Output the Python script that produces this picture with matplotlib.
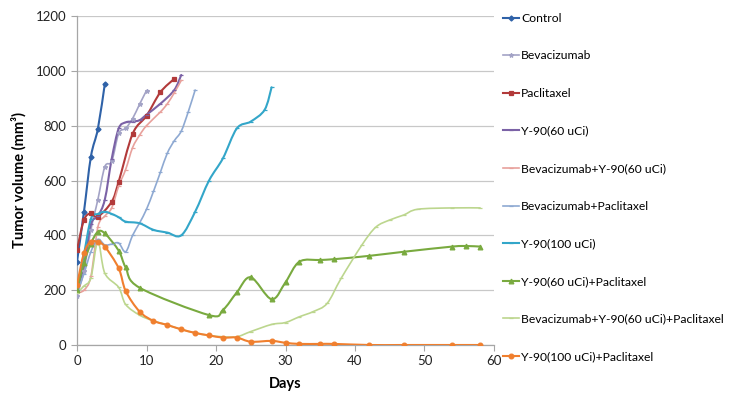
import matplotlib
matplotlib.use("Agg")
import matplotlib.pyplot as plt
from matplotlib.path import Path
from matplotlib.patches import PathPatch
from matplotlib.lines import Line2D

plt.rcParams['font.family'] = ['Lato', 'DejaVu Sans']

# ---- data ----
control_days = [0, 1, 2, 3, 4]
control_vol = [304, 486, 687, 788, 952]

bev_days = [0, 1, 2, 3, 4, 5, 6, 7, 8, 9, 10]
bev_vol = [180, 270, 420, 530, 650, 670, 772, 790, 826, 878, 928]

pac_days = [0, 1, 2, 3, 5, 6, 8, 10, 12, 14]
pac_vol = [347, 456, 480, 468, 523, 596, 770, 836, 922, 971]

y60_days = [0, 1, 2, 3, 4, 5, 6, 7, 8, 9, 10, 12, 14, 15]
y60_vol = [200, 290, 440, 470, 530, 680, 790, 812, 815, 820, 840, 880, 930, 985]

bevy60_days = [0, 1, 2, 3, 4, 5, 6, 7, 8, 9, 10, 12, 13, 14, 15]
bevy60_vol = [190, 200, 250, 430, 470, 500, 580, 640, 720, 765, 800, 850, 880, 920, 965]

bevpac_days = [0, 1, 2, 3, 4, 5, 6, 7, 8, 9, 10, 11, 12, 13, 14, 15, 16, 17]
bevpac_vol = [190, 260, 340, 385, 365, 368, 372, 340, 400, 445, 495, 560, 630, 700, 745, 780, 850, 930]

y100_days = [0, 1, 2, 3, 4, 5, 6, 7, 9, 11, 13, 15, 17, 19, 21, 23, 25, 27, 28]
y100_vol = [200, 330, 460, 478, 486, 478, 466, 450, 444, 420, 410, 400, 486, 600, 681, 790, 815, 858, 940]

y60pac_days = [0, 1, 2, 3, 4, 6, 7, 9, 19, 21, 23, 25, 28, 30, 32, 35, 37, 42, 47, 54, 56, 58]
y60pac_vol = [200, 300, 370, 413, 407, 344, 283, 209, 109, 128, 192, 247, 167, 229, 304, 310, 313, 325, 340, 359, 361, 359]

bevy60pac_days = [0, 1, 2, 3, 4, 6, 7, 9, 11, 13, 15, 17, 19, 21, 23, 25, 28, 30, 32, 34, 36, 38, 41, 43, 45, 47, 49, 54, 58]
bevy60pac_vol = [190, 215, 245, 377, 262, 210, 148, 109, 88, 73, 57, 44, 35, 30, 30, 49, 75, 82, 103, 122, 152, 243, 365, 430, 456, 474, 495, 500, 500]

y100pac_days = [0, 1, 2, 3, 4, 6, 7, 9, 11, 13, 15, 17, 19, 21, 23, 25, 28, 30, 32, 35, 37, 42, 47, 54, 58]
y100pac_vol = [219, 335, 377, 375, 359, 280, 197, 122, 88, 73, 57, 44, 35, 27, 27, 12, 15, 8, 4, 4, 4, 0, 0, 0, 0]

series = [
    ("Control", control_days, control_vol, "#2f62a8", "D", 2.6, 1.5),
    ("Bevacizumab", bev_days, bev_vol, "#a3a3c6", "*", 3.2, 1.2),
    ("Paclitaxel", pac_days, pac_vol, "#b23a3a", "s", 3.3, 1.5),
    ("Y-90(60 uCi)", y60_days, y60_vol, "#7b62a6", "_", 3.5, 1.5),
    ("Bevacizumab+Y-90(60 uCi)", bevy60_days, bevy60_vol, "#e8a19c", "_", 3.0, 1.2),
    ("Bevacizumab+Paclitaxel", bevpac_days, bevpac_vol, "#8ea9d2", "_", 3.0, 1.2),
    ("Y-90(100 uCi)", y100_days, y100_vol, "#33a6c9", "_", 3.5, 1.5),
    ("Y-90(60 uCi)+Paclitaxel", y60pac_days, y60pac_vol, "#79aa3f", "^", 3.4, 1.5),
    ("Bevacizumab+Y-90(60 uCi)+Paclitaxel", bevy60pac_days, bevy60pac_vol, "#bcd68e", "_", 3.0, 1.2),
    ("Y-90(100 uCi)+Paclitaxel", y100pac_days, y100pac_vol, "#f07f2e", "o", 3.4, 1.5),
]

fig = plt.figure(figsize=(7.29, 4.01), dpi=100)
ax = fig.add_axes([77 / 729, 56 / 401, (494 - 77) / 729, (345 - 16) / 401])


def smooth_path(xs, ys):
    pts = list(zip(xs, ys))
    n = len(pts)
    verts = [pts[0]]
    codes = [Path.MOVETO]
    for i in range(n - 1):
        p0 = pts[i - 1] if i > 0 else pts[i]
        p1 = pts[i]
        p2 = pts[i + 1]
        p3 = pts[i + 2] if i + 2 < n else pts[i + 1]
        c1 = (p1[0] + (p2[0] - p0[0]) / 6.0, p1[1] + (p2[1] - p0[1]) / 6.0)
        c2 = (p2[0] - (p3[0] - p1[0]) / 6.0, p2[1] - (p3[1] - p1[1]) / 6.0)
        verts += [c1, c2, p2]
        codes += [Path.CURVE4] * 3
    return Path(verts, codes)


handles = []
for i, (name, xs, ys, col, mk, ms, lw) in enumerate(series):
    patch = PathPatch(smooth_path(xs, ys), facecolor="none", edgecolor=col,
                      lw=lw, transform=ax.transData, zorder=3 + i * 0.01,
                      capstyle="round", joinstyle="round")
    ax.add_patch(patch)
    ax.plot(xs, ys, ls="none", marker=mk, ms=ms, color=col, mec=col,
            mew=0.9, zorder=3.5 + i * 0.01)
    handles.append(Line2D([], [], color=col, lw=lw, marker=mk, ms=ms, mew=0.9))

ax.set_xlim(0, 60)
ax.set_ylim(0, 1200)
ax.set_xticks(range(0, 61, 10))
ax.set_yticks(range(0, 1201, 200))
ax.grid(axis="y", color="#c8c8c8", lw=0.9)
ax.set_axisbelow(True)
for s in ["top", "right"]:
    ax.spines[s].set_visible(False)
for s in ["left", "bottom"]:
    ax.spines[s].set_color("#a6a6a6")
    ax.spines[s].set_linewidth(0.9)
ax.tick_params(axis="both", colors="#a6a6a6", labelcolor="#222222",
               labelsize=9.5, length=4, width=0.8)
ax.set_xlabel("Days", fontsize=10.5, fontweight="bold", labelpad=7)
ax.set_ylabel("Tumor volume (mm³)", fontsize=10.5, fontweight="bold", labelpad=7)

leg = fig.legend(handles, [s[0] for s in series], loc="upper left",
                 bbox_to_anchor=(498 / 729, 1 - 8 / 401), frameon=False,
                 fontsize=8.7, handlelength=1.3, handletextpad=0.2,
                 labelspacing=2.2, borderaxespad=0)

fig.savefig("out.png", dpi=100)
